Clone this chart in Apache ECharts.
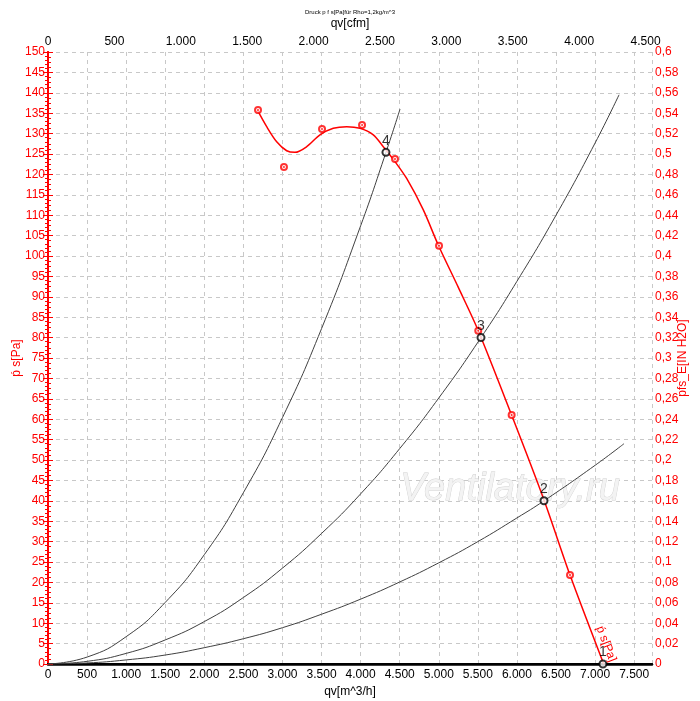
<!DOCTYPE html>
<html>
<head>
<meta charset="utf-8">
<script src="https://cdn.jsdelivr.net/npm/echarts@6/dist/echarts.min.js"></script>
<style>
html,body{margin:0;padding:0;background:#fff;}
#chart{width:700px;height:701px;}
</style>
</head>
<body>
<div id="chart"></div>
<script>
// fan curve ps [Pa] over qv [m^3/h]
var fanFlow  = [2678, 2798, 2926, 3054, 3160, 3310, 3480, 3650, 3822, 3992, 4162, 4290, 4418, 4589, 4802, 4993, 5250, 5505, 5932, 6346, 6679, 7110];
var fanPress = [135.8, 131.7, 128.0, 125.8, 125.4, 126.8, 129.7, 131.3, 131.7, 131.3, 129.7, 126.8, 123.7, 119.0, 111.3, 102.7, 92.3, 81.7, 61.0, 40.2, 21.8, 0];

// measured points (red rings)
var measFlow  = [2687, 3019, 3506, 4018, 4440, 5003, 5505, 5932, 6679];
var measPress = [135.8, 121.8, 131.1, 132.1, 123.8, 102.5, 81.7, 61.0, 21.8];

// system curves (black)
var sysAFlow  = [0, 500, 1000, 1500, 2000, 2500, 3000, 3500, 4000, 4324, 4504];
var sysAPress = [0, 1.7, 6.7, 15.1, 26.8, 42, 60.4, 82.2, 107.4, 125.4, 136];
var sysBFlow  = [0, 500, 1000, 1500, 2000, 2500, 3000, 3500, 4000, 4500, 5000, 5540, 6000, 6500, 7000, 7306];
var sysBPress = [0, 0.65, 2.6, 5.9, 10.4, 16.3, 23.5, 32, 41.7, 52.8, 65.2, 80, 93.8, 110, 127.7, 139.5];
var sysCFlow  = [0, 500, 1000, 1500, 2000, 2500, 3000, 3500, 4000, 4500, 5000, 5500, 6000, 6346, 7000, 7370];
var sysCPress = [0, 0.25, 1, 2.2, 4, 6.2, 8.9, 12.2, 15.9, 20.1, 24.8, 30, 35.8, 40, 48.7, 54];

// operating points
var opNames = ['4', '3', '2', '1'];
var opFlow  = [4324, 5540, 6346, 7100];
var opPress = [125.4, 80, 40, 0];

// axis ranges
var qMax = 7728;          // m^3/h
var cfmMax = qMax / 1.699;
var pMax = 150;           // Pa
var inMax = 0.6;          // in H2O

function zip(a, b) { return a.map(function (v, i) { return [v, b[i]]; }); }
function thousands(v) { return String(Math.round(v)).replace(/\B(?=(\d{3})+(?!\d))/g, '.'); }
function comma(v) { return String(parseFloat(v.toFixed(2))).replace('.', ','); }

var FONT = 'Liberation Sans, Arial, sans-serif';
var chart = echarts.init(document.getElementById('chart'));

var option = {
  animation: false,
  textStyle: { fontFamily: FONT },
  grid: { left: 48, right: 48, top: 52, bottom: 37, containLabel: false, outerBoundsMode: 'none' },
  graphic: [
    { type: 'text', left: 'center', top: 9,
      style: { text: 'Druck p f s[Pa]für Rho=1,2kg/m^3', font: '6px ' + FONT, fill: '#000' } },
    { type: 'text', x: 510, y: 489, z: 1,
      style: { text: 'Ventilatory.ru', font: 'italic 38px ' + FONT, fill: '#f3f3f3', stroke: '#cfcfcf', lineWidth: 0.8,
               align: 'center', verticalAlign: 'middle' } },
    { type: 'text', x: 606, y: 644, rotation: -1.2, z: 10,
      style: { text: 'ṕ s[Pa]', font: '12px ' + FONT, fill: '#ff0000', align: 'center', verticalAlign: 'middle' } }
  ],
  xAxis: [{
    type: 'value', position: 'bottom', min: 0, max: qMax, interval: 500,
    name: 'qv[m^3/h]', nameLocation: 'middle', nameGap: 22, nameMoveOverlap: false,
    nameTextStyle: { color: '#000', fontSize: 12 },
    axisLine: { show: true, lineStyle: { color: '#000', width: 2.5 } },
    axisTick: { show: false },
    axisLabel: { color: '#000', fontSize: 12, margin: 5, showMaxLabel: false, formatter: thousands },
    splitLine: { show: true, lineStyle: { color: '#c8c8c8', type: [4, 4], width: 1 } }
  }, {
    type: 'value', position: 'top', min: 0, max: cfmMax, interval: 500,
    name: 'qv[cfm]', nameLocation: 'middle', nameGap: 22, nameMoveOverlap: false,
    nameTextStyle: { color: '#000', fontSize: 12 },
    axisLine: { show: true, lineStyle: { color: '#000', width: 2 } },
    axisTick: { show: false },
    axisLabel: { color: '#000', fontSize: 12, margin: 4, showMaxLabel: false, formatter: thousands },
    splitLine: { show: false }
  }],
  yAxis: [{
    type: 'value', position: 'left', min: 0, max: pMax, interval: 5,
    name: 'ṕ s[Pa]', nameLocation: 'middle', nameGap: 25, nameMoveOverlap: false,
    nameTextStyle: { color: '#ff0000', fontSize: 12 },
    axisLine: { show: true, lineStyle: { color: '#ff0000', width: 2 } },
    axisTick: { show: true, length: 5, lineStyle: { color: '#ff0000' } },
    minorTick: { show: true, splitNumber: 5, length: 3, lineStyle: { color: '#ff0000' } },
    axisLabel: { color: '#ff0000', fontSize: 12, margin: 3 },
    splitLine: { show: true, lineStyle: { color: '#c8c8c8', type: [4, 4], width: 1 } }
  }, {
    type: 'value', position: 'right', min: 0, max: inMax, interval: 0.02,
    name: 'pfs_E[IN H2O]', nameLocation: 'middle', nameGap: 25, nameRotate: 90, nameMoveOverlap: false,
    nameTextStyle: { color: '#ff0000', fontSize: 12 },
    axisLine: { show: true, lineStyle: { color: '#ff0000', width: 2 } },
    axisTick: { show: true, length: 5, lineStyle: { color: '#ff0000' } },
    minorTick: { show: true, splitNumber: 4, length: 3, lineStyle: { color: '#ff0000' } },
    axisLabel: { color: '#ff0000', fontSize: 12, margin: 3, formatter: comma },
    splitLine: { show: false }
  }],
  series: [
    { type: 'line', name: 'A', data: zip(sysAFlow, sysAPress), smooth: true, showSymbol: false,
      lineStyle: { color: '#404040', width: 1 }, z: 3 },
    { type: 'line', name: 'B', data: zip(sysBFlow, sysBPress), smooth: true, showSymbol: false,
      lineStyle: { color: '#404040', width: 1 }, z: 3 },
    { type: 'line', name: 'C', data: zip(sysCFlow, sysCPress), smooth: true, showSymbol: false,
      lineStyle: { color: '#404040', width: 1 }, z: 3 },
    { type: 'line', name: 'fan', data: zip(fanFlow, fanPress), smooth: 0.3, showSymbol: false,
      lineStyle: { color: '#ff0000', width: 1.5 }, z: 4 },
    { type: 'scatter', name: 'meas', data: zip(measFlow, measPress), symbol: 'emptyCircle', symbolSize: 6,
      itemStyle: { color: '#ff0000', borderColor: '#ff0000', borderWidth: 1 }, z: 5 },
    { type: 'scatter', name: 'measDot', data: zip(measFlow, measPress), symbol: 'circle', symbolSize: 2,
      itemStyle: { color: '#ff0000' }, z: 5 },
    { type: 'scatter', name: 'op', clip: false,
      data: opFlow.map(function (q, i) { return { value: [q, opPress[i]], name: opNames[i] }; }),
      symbol: 'emptyCircle', symbolSize: 7,
      itemStyle: { color: '#000', borderColor: '#000', borderWidth: 1 },
      label: { show: true, position: 'top', distance: 0, formatter: '{b}', color: '#000', fontSize: 14 },
      z: 6 }
  ]
};
chart.setOption(option);
</script>
</body>
</html>
